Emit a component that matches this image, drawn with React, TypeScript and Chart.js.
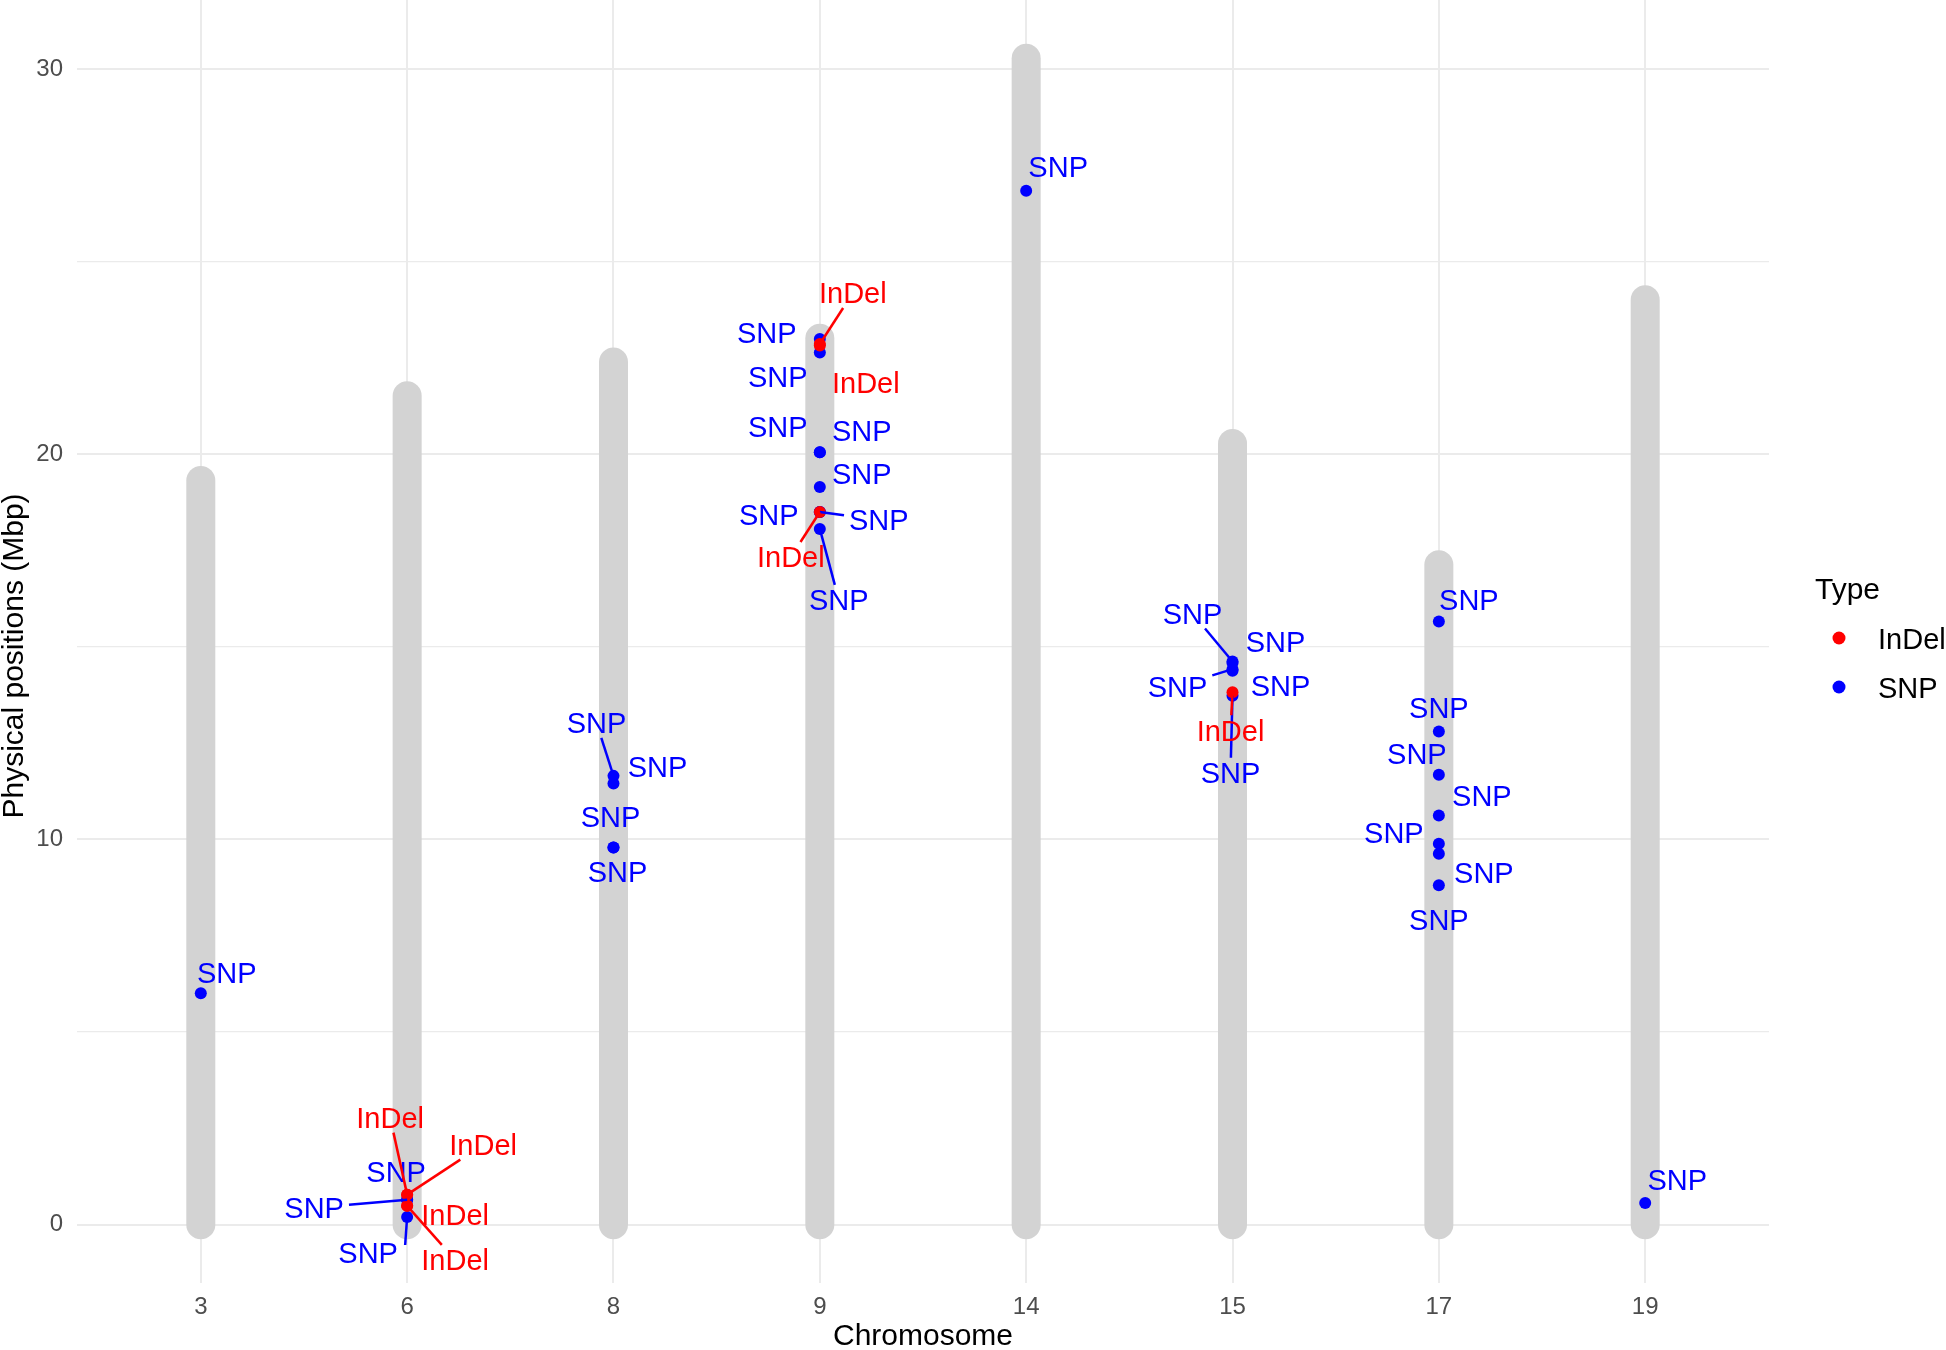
import React, { useEffect, useRef } from 'react';
import { Chart, registerables } from 'chart.js';

Chart.register(...registerables);

// ---------------- data ----------------
const chromosomes = ['3', '6', '8', '9', '14', '15', '17', '19'];
const chromosomeLengths = [19.32, 21.52, 22.39, 23.01, 30.28, 20.28, 17.13, 24.01];

const yTickValues = [0, 5, 10, 15, 20, 25, 30];

const snpChromosome = [
  '3',
  '6', '6', '6',
  '8', '8', '8', '8',
  '9', '9', '9', '9', '9', '9', '9', '9',
  '14',
  '15', '15', '15', '15', '15',
  '17', '17', '17', '17', '17', '17', '17',
  '19',
];
const snpPosition = [
  6.01,
  0.65, 0.65, 0.2,
  11.65, 11.45, 9.79, 9.79,
  22.99, 22.64, 20.05, 20.05, 19.15, 18.5, 18.5, 18.06,
  26.84,
  14.62, 14.58, 14.42, 14.38, 13.73,
  15.66, 12.8, 11.68, 10.62, 9.89, 9.63, 8.81,
  0.56,
];

const indelChromosome = ['6', '6', '6', '6', '9', '9', '9', '15'];
const indelPosition = [0.78, 0.78, 0.49, 0.49, 22.86, 22.82, 18.5, 13.82];

// repelled label layout: [dx px, dy px, draw segment, optional segment end dx, dy]
const snpLabelLayout = [
  [26, -21, 0],
  [-11, -28, 0], [-93, 8, 1], [-39, 36, 1, -2, 28],
  [-17, -53, 1], [44, -17, 0], [-3, -31, 0], [4, 24, 0],
  [-53, -6, 0], [-42, 24, 0], [-42, -26, 0], [42, -22, 0], [42, -13, 0], [-51, 3, 0], [59, 8, 1], [19, 71, 1],
  [32, -24, 0],
  [-40, -48, 1], [43, -21, 0], [-55, 17, 1], [48, 15, 0], [-2, 77, 1],
  [30, -22, 0], [0, -24, 0], [-22, -21, 0], [43, -20, 0], [-45, -11, 0], [45, 19, 0], [0, 34, 0],
  [32, -23, 0],
];
const indelLabelLayout = [
  [-17, -77, 1], [76, -50, 1], [48, 9, 0], [48, 54, 1],
  [33, -51, 1], [46, 37, 0], [-29, 45, 1],
  [-2, 38, 1],
];

const SNP_COLOR = '#0000FF';
const INDEL_COLOR = '#FF0000';
const FONT = "'Liberation Sans', Arial, Helvetica, sans-serif";

function drawCapText(ctx: CanvasRenderingContext2D, text: string, x: number, y: number, size: number, align: CanvasTextAlign) {
  ctx.font = `${size}px ${FONT}`;
  ctx.textAlign = align;
  ctx.textBaseline = 'alphabetic';
  ctx.fillText(text, x, y + size * 0.716 / 2);
}

const labelPlugin = {
  id: 'repelLabels',
  afterDatasetsDraw(chart: any) {
    const ctx: CanvasRenderingContext2D = chart.ctx;
    const xs = chart.scales.x;
    const ys = chart.scales.y;
    const size = 29;
    const drawSet = (chrs: string[], pos: number[], layout: number[][], text: string, color: string) => {
      ctx.save();
      ctx.font = `${size}px ${FONT}`;
      const w = ctx.measureText(text).width;
      const hw = w / 2 + 5;
      const hh = 15;
      chrs.forEach((c, i) => {
        const px = xs.getPixelForValue(chromosomes.indexOf(c));
        const py = ys.getPixelForValue(pos[i]);
        const [dx, dy, seg, sx, sy] = layout[i];
        const cx = px + dx;
        const cy = py + dy;
        if (seg) {
          let ex: number | null = null;
          let ey: number | null = null;
          if (sx !== undefined && sy !== undefined) {
            ex = px + sx;
            ey = py + sy;
          } else {
            const vx = px - cx;
            const vy = py - cy;
            const t = Math.min(vx !== 0 ? hw / Math.abs(vx) : Infinity, vy !== 0 ? hh / Math.abs(vy) : Infinity);
            if (t < 1) {
              ex = cx + vx * t;
              ey = cy + vy * t;
            }
          }
          if (ex !== null && ey !== null) {
            ctx.strokeStyle = color;
            ctx.lineWidth = 2.5;
            ctx.lineCap = 'butt';
            ctx.beginPath();
            ctx.moveTo(px, py);
            ctx.lineTo(ex, ey);
            ctx.stroke();
          }
        }
        ctx.fillStyle = color;
        drawCapText(ctx, text, cx, cy, size, 'center');
      });
      ctx.restore();
    };
    drawSet(snpChromosome, snpPosition, snpLabelLayout, 'SNP', SNP_COLOR);
    drawSet(indelChromosome, indelPosition, indelLabelLayout, 'InDel', INDEL_COLOR);
  },
  afterDraw(chart: any) {
    const ctx: CanvasRenderingContext2D = chart.ctx;
    ctx.save();
    // y axis title
    ctx.translate(13, 656);
    ctx.rotate(-Math.PI / 2);
    ctx.fillStyle = '#000000';
    drawCapText(ctx, 'Physical positions (Mbp)', 0, -1, 30, 'center');
    ctx.restore();

    ctx.save();
    ctx.fillStyle = '#000000';
    drawCapText(ctx, 'Type', 1815, 588, 30, 'left');
    const items = [
      ['InDel', INDEL_COLOR, 638],
      ['SNP', SNP_COLOR, 687],
    ] as [string, string, number][];
    items.forEach(([t, col, y]) => {
      ctx.fillStyle = col;
      ctx.beginPath();
      ctx.arc(1839, y, 6.5, 0, Math.PI * 2);
      ctx.fill();
      ctx.fillStyle = '#000000';
      drawCapText(ctx, t, 1878, y + 1, 29, 'left');
    });
    ctx.restore();
  },
};

export default function App() {
  const canvasRef = useRef<HTMLCanvasElement | null>(null);

  useEffect(() => {
    const canvas = canvasRef.current;
    if (!canvas) return;

    const barDatasets = chromosomes.map((c, i) => ({
      type: 'line' as const,
      label: 'chr' + c,
      data: [
        { x: i, y: 0 },
        { x: i, y: chromosomeLengths[i] },
      ],
      showLine: true,
      borderColor: '#D3D3D3',
      borderWidth: 29,
      borderCapStyle: 'round' as const,
      pointRadius: 0,
      pointHoverRadius: 0,
      clip: false as any,
      order: 2,
    }));

    const snpData = snpPosition.map((p, i) => ({ x: chromosomes.indexOf(snpChromosome[i]), y: p }));
    const indelData = indelPosition.map((p, i) => ({ x: chromosomes.indexOf(indelChromosome[i]), y: p }));

    const chart = new Chart(canvas, {
      type: 'scatter',
      data: {
        datasets: [
          ...barDatasets,
          {
            type: 'scatter',
            label: 'SNP',
            data: snpData,
            backgroundColor: SNP_COLOR,
            borderWidth: 0,
            pointRadius: 6,
            pointHoverRadius: 6,
            order: 1,
          },
          {
            type: 'scatter',
            label: 'InDel',
            data: indelData,
            backgroundColor: INDEL_COLOR,
            borderWidth: 0,
            pointRadius: 6,
            pointHoverRadius: 6,
            order: 0,
          },
        ] as any,
      },
      options: {
        responsive: false,
        animation: false,
        events: [],
        layout: { padding: { left: 0, top: 0, right: 177, bottom: 0 }, autoPadding: false },
        plugins: {
          legend: { display: false },
          tooltip: { enabled: false },
        },
        scales: {
          x: {
            type: 'linear',
            min: -0.6,
            max: 7.6,
            afterBuildTicks: (scale: any) => {
              scale.ticks = chromosomes.map((_, i) => ({ value: i }));
            },
            afterFit: (scale: any) => {
              scale.height = 67;
              scale.paddingLeft = 0;
              scale.paddingRight = 0;
              scale.paddingTop = 0;
              scale.paddingBottom = 0;
            },
            ticks: {
              callback: (v: any) => chromosomes[Math.round(Number(v))] ?? '',
              color: '#4D4D4D',
              font: { family: FONT, size: 24 },
              padding: 10,
              maxRotation: 0,
              autoSkip: false,
            },
            grid: { color: '#EBEBEB', lineWidth: 2, drawTicks: false },
            border: { display: false },
            title: {
              display: true,
              text: 'Chromosome',
              color: '#000000',
              font: { family: FONT, size: 30, lineHeight: 0.9 },
              padding: 0,
            },
          },
          y: {
            type: 'linear',
            min: -1.514,
            max: 31.79,
            afterBuildTicks: (scale: any) => {
              scale.ticks = yTickValues.map((v) => ({ value: v }));
            },
            afterFit: (scale: any) => {
              scale.width = 77;
              scale.paddingLeft = 0;
              scale.paddingRight = 0;
              scale.paddingTop = 0;
              scale.paddingBottom = 0;
            },
            ticks: {
              callback: (v: any) => (Number(v) % 10 === 0 ? String(v) : ''),
              color: '#4D4D4D',
              font: { family: FONT, size: 24 },
              padding: 14,
              autoSkip: false,
            },
            grid: {
              color: '#EBEBEB',
              lineWidth: (c: any) => (c.tick && c.tick.value % 10 === 0 ? 2 : 1.3),
              drawTicks: false,
            },
            border: { display: false },
            title: { display: false },
          },
        },
      },
      plugins: [labelPlugin],
    });

    return () => chart.destroy();
  }, []);

  return (
    <div style={{ position: 'fixed', left: 0, top: 0, width: 1946, height: 1350, background: '#FFFFFF' }}>
      <canvas
        ref={canvasRef}
        width={1946}
        height={1350}
        role="img"
        aria-label="Physical positions (Mbp) of SNP and InDel markers by chromosome"
        style={{ display: 'block', width: 1946, height: 1350 }}
      />
    </div>
  );
}
